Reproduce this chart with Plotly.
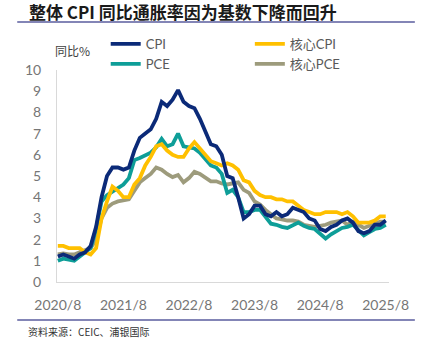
import plotly.graph_objects as go

# ---------------- data (monthly, 2020/8 .. 2025/8) ----------------
months = [f"{y}/{m}" for y in range(2020, 2026) for m in range(1, 13)]
months = months[months.index("2020/8"):months.index("2025/8") + 1]

cpi = [1.2, 1.3, 1.2, 1.1, 1.3,
       1.4, 1.7, 2.6, 4.0, 5.0, 5.4, 5.4, 5.3, 5.4, 6.2, 6.8, 7.0,
       7.2, 7.7, 8.5, 8.3, 8.6, 9.05, 8.5, 8.3, 8.2, 7.7, 7.1, 6.5,
       6.4, 6.0, 5.0, 4.9, 4.0, 3.0, 3.2, 3.6, 3.6, 3.2, 3.1, 3.3,
       3.1, 3.2, 3.5, 3.4, 3.3, 3.0, 2.9, 2.5, 2.4, 2.6, 2.7, 2.9,
       3.0, 2.8, 2.4, 2.3, 2.4, 2.7, 2.7, 2.9]
core_cpi = [1.7, 1.7, 1.6, 1.6, 1.6,
            1.4, 1.3, 1.6, 3.0, 3.8, 4.5, 4.3, 4.0, 4.0, 4.6, 4.9, 5.5,
            5.9, 6.4, 6.5, 6.2, 6.0, 5.9, 5.9, 6.3, 6.6, 6.3, 6.0, 5.7,
            5.6, 5.5, 5.6, 5.5, 5.3, 4.8, 4.7, 4.3, 4.1, 4.0, 4.0, 3.9,
            3.9, 3.8, 3.8, 3.6, 3.4, 3.3, 3.2, 3.2, 3.3, 3.3, 3.3, 3.2,
            3.3, 3.1, 2.8, 2.8, 2.8, 2.9, 3.1, 3.1]
pce = [1.0, 1.1, 1.05, 1.0, 1.2,
       1.4, 1.6, 2.5, 3.8, 4.1, 4.25, 4.4, 4.6, 4.9, 5.75, 5.85, 6.0,
       6.1, 6.35, 6.75, 6.4, 6.5, 7.0, 6.4, 6.35, 6.3, 6.1, 5.8, 5.5,
       5.4, 5.1, 4.2, 4.35, 4.0, 3.3, 3.3, 3.4, 3.4, 3.1, 2.75, 2.7,
       2.6, 2.55, 2.7, 2.8, 2.65, 2.55, 2.5, 2.3, 2.05, 2.25, 2.4, 2.55,
       2.6, 2.7, 2.45, 2.2, 2.35, 2.5, 2.55, 2.7]
core_pce = [1.3, 1.35, 1.3, 1.3, 1.4,
            1.5, 1.6, 2.0, 3.0, 3.5, 3.7, 3.8, 3.85, 3.9, 4.3, 4.7, 4.9,
            5.1, 5.4, 5.3, 5.1, 4.95, 5.05, 4.7, 4.9, 5.2, 5.1, 4.9, 4.75,
            4.75, 4.65, 4.6, 4.65, 4.7, 4.35, 4.2, 3.8, 3.65, 3.4, 3.2, 3.0,
            2.95, 2.9, 2.9, 2.85, 2.7, 2.65, 2.6, 2.65, 2.7, 2.8, 2.85, 2.9,
            2.7, 2.85, 2.7, 2.55, 2.65, 2.75, 2.85, 2.85]

tick_labels = ["2020/8", "2021/8", "2022/8", "2023/8", "2024/8", "2025/8"]
y_ticks = list(range(0, 11))

W, H = 421, 353
L, R, T, B = 57, 30, 70, 71
pw, ph = W - L - R, H - T - B


def px(x):
    return (x - L) / pw


def py(y):
    return (H - B - y) / ph


# name, values, colour, legend id, legend position (px)
series = [
    ("CPI", cpi, "#0B2A78", "legend", (106, 44)),
    ("核心CPI", core_cpi, "#FFC000", "legend2", (251, 44)),
    ("PCE", pce, "#0E9E98", "legend3", (106, 64)),
    ("核心PCE", core_pce, "#9D9B7C", "legend4", (251, 64)),
]

font_lat = "Lato, 'Noto Sans CJK SC', sans-serif"
font_cjk = "'Noto Sans CJK SC', sans-serif"

fig = go.Figure()
idx = list(range(len(months)))
for k in [3, 2, 1, 0]:
    name, vals, color, lg, _ = series[k]
    fig.add_trace(go.Scatter(
        x=idx, y=vals, mode="lines", name=name, legend=lg,
        line=dict(color=color, width=3.8),
        hovertemplate="%{text}: %{y}<extra>" + name + "</extra>",
        text=months,
    ))

leg_common = dict(
    orientation="v", bgcolor="rgba(0,0,0,0)", borderwidth=0,
    font=dict(family=font_lat, size=13, color="#595959"),
    xanchor="left", yanchor="middle", itemwidth=30,
)
legends = {}
for name, vals, color, lg, (lx, ly) in series:
    legends[lg] = dict(**leg_common, x=px(lx), y=py(ly))

tick_vals = [months.index(t) for t in tick_labels]

fig.update_layout(
    width=W, height=H,
    margin=dict(l=L, r=R, t=T, b=B),
    paper_bgcolor="white", plot_bgcolor="white",
    showlegend=True,
    **legends,
    xaxis=dict(
        range=[-0.15, 60.6], tickmode="array", tickvals=tick_vals, ticktext=tick_labels,
        showgrid=False, zeroline=False, showline=True, linecolor="#D9D9D9", linewidth=1,
        ticks="", ticklabelstandoff=10,
        tickfont=dict(family=font_lat, size=14, color="#767676"),
    ),
    yaxis=dict(
        range=[0, 10], tickmode="array", tickvals=y_ticks,
        showgrid=False, zeroline=False, showline=True, linecolor="#D9D9D9", linewidth=1,
        ticks="", ticklabelstandoff=12,
        tickfont=dict(family=font_lat, size=14, color="#767676"),
    ),
    shapes=[
        dict(type="line", xref="paper", yref="paper", x0=px(17), x1=px(417), y0=py(22), y1=py(22),
             line=dict(color="#5A5C9E", width=1.5)),
        dict(type="line", xref="paper", yref="paper", x0=px(17), x1=px(417), y0=py(320), y1=py(320),
             line=dict(color="#5A5C9E", width=1.5)),
    ],
    annotations=[
        dict(text="<b>整体 CPI 同比通胀率因为基数下降而回升</b>", xref="paper", yref="paper",
             x=px(27), y=py(12), xanchor="left", yanchor="middle", showarrow=False,
             font=dict(family=font_cjk, size=17, color="#1A1A1A")),
        dict(text="同比%", xref="paper", yref="paper",
             x=px(53), y=py(50), xanchor="left", yanchor="middle", showarrow=False,
             font=dict(family=font_cjk, size=12, color="#404040")),
        dict(text="资料来源：CEIC、浦银国际", xref="paper", yref="paper",
             x=px(26), y=py(331), xanchor="left", yanchor="middle", showarrow=False,
             font=dict(family=font_cjk, size=10, color="#333333")),
    ],
)

fig.write_html("out.html")
